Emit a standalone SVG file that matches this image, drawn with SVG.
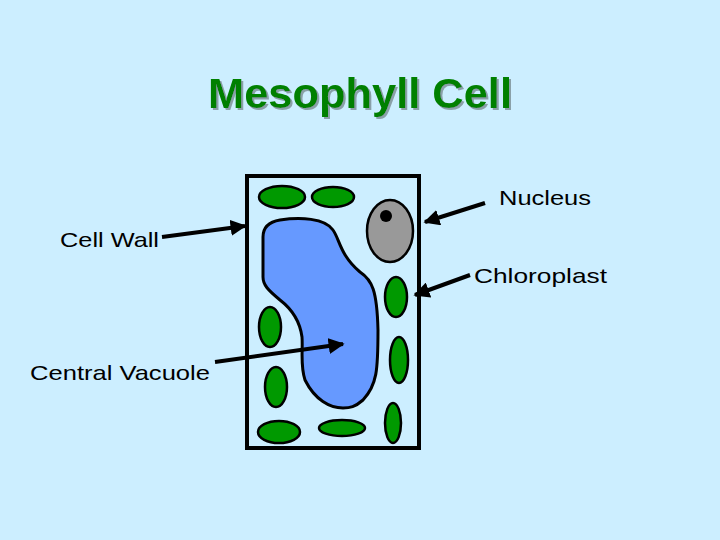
<svg xmlns="http://www.w3.org/2000/svg" width="720" height="540" viewBox="0 0 720 540">
<defs>
<marker id="ah" viewBox="0 0 10 10" refX="9" refY="5" markerWidth="4" markerHeight="4" orient="auto"><path d="M0,0 L10,5 L0,10 z" fill="#000"/></marker>
<filter id="sh" x="-5%" y="-20%" width="110%" height="140%"><feDropShadow dx="2" dy="2" stdDeviation="0.5" flood-color="#8aa0a8"/></filter>
</defs>
<style>
.chl{fill:#009900;stroke:#000;stroke-width:2.5}
.lbl{font-family:"Liberation Sans",Arial,sans-serif;font-size:21px;fill:#000}
.arr{stroke:#000;stroke-width:4;fill:none;marker-end:url(#ah)}
</style>
<rect width="720" height="540" fill="#cceeff"/>
<text x="208" y="108" textLength="304" lengthAdjust="spacingAndGlyphs" font-family="Liberation Sans,Arial,sans-serif" font-weight="bold" font-size="43" fill="#008000" filter="url(#sh)">Mesophyll Cell</text>
<g id="cell">
<rect x="247" y="176" width="172" height="272" fill="#cceeff" stroke="#000" stroke-width="4"/>
</g>
<g id="vacuole">
<path d="M263,237 C263,228 268,222 280,220 C300,217 325,218 333,230 C340,240 340,255 360,272 C372,280 377,290 378,330 C378,370 377,385 363,400 C355,407 350,408 343,408 C330,408 315,400 305,380 C300,365 303,350 302,337 C300,322 293,310 280,300 C268,290 263,285 263,277 Z" fill="#6699ff" stroke="#000" stroke-width="3"/>
</g>
<g id="nucleus">
<ellipse cx="390" cy="231" rx="23" ry="31" fill="#999999" stroke="#000" stroke-width="2.5"/>
<circle cx="386" cy="216" r="6" fill="#000"/>
</g>
<g id="chloroplasts">
<ellipse class="chl" cx="282" cy="197" rx="23" ry="11"/>
<ellipse class="chl" cx="333" cy="197" rx="21" ry="10"/>
<ellipse class="chl" cx="270" cy="327" rx="11" ry="20"/>
<ellipse class="chl" cx="276" cy="387" rx="11" ry="20"/>
<ellipse class="chl" cx="279" cy="432" rx="21" ry="11"/>
<ellipse class="chl" cx="342" cy="428" rx="23" ry="8"/>
<ellipse class="chl" cx="396" cy="297" rx="11" ry="20"/>
<ellipse class="chl" cx="399" cy="360" rx="9" ry="23"/>
<ellipse class="chl" cx="393" cy="423" rx="8" ry="20"/>
</g>
<g id="labels">
<text class="lbl" x="499" y="205" textLength="92" lengthAdjust="spacingAndGlyphs">Nucleus</text>
<text class="lbl" x="60" y="247" textLength="99" lengthAdjust="spacingAndGlyphs">Cell Wall</text>
<text class="lbl" x="474" y="283" textLength="133" lengthAdjust="spacingAndGlyphs">Chloroplast</text>
<text class="lbl" x="30" y="380" textLength="180" lengthAdjust="spacingAndGlyphs">Central Vacuole</text>
</g>
<g id="connectors">
<line class="arr" x1="485" y1="203" x2="425" y2="222"/>
<line class="arr" x1="162" y1="237" x2="245" y2="226"/>
<line class="arr" x1="470" y1="275" x2="415" y2="295"/>
<line class="arr" x1="215" y1="362" x2="343" y2="344"/>
</g>
</svg>
